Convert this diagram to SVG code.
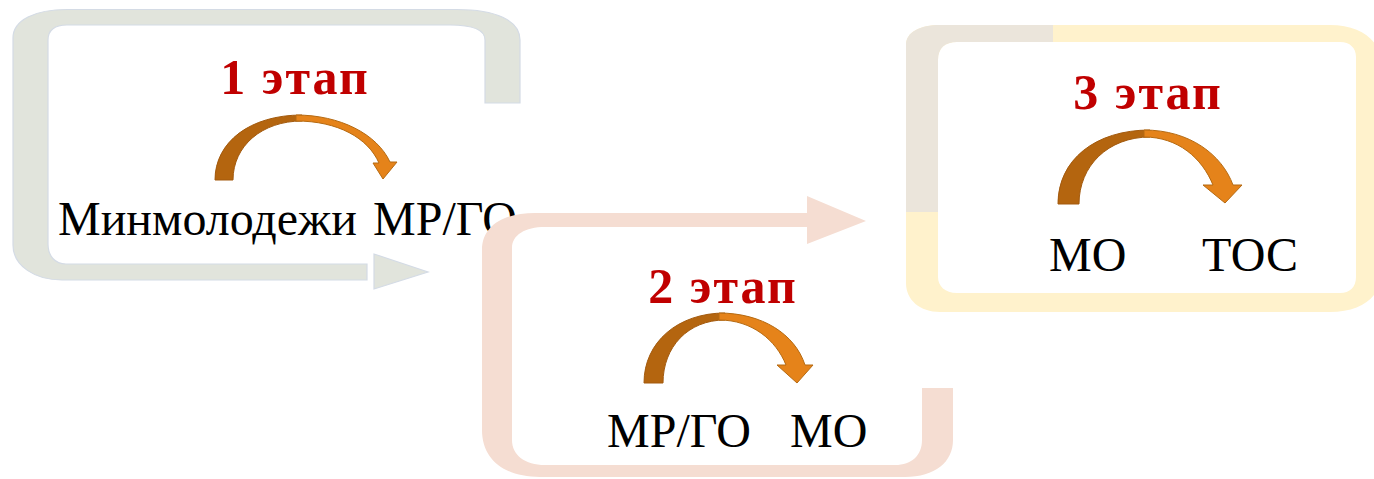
<svg xmlns="http://www.w3.org/2000/svg" width="1374" height="479" viewBox="0 0 1374 479">
<style>
.lbl{font-family:"Liberation Serif","Times New Roman",serif;font-size:48px;fill:#000}
.ttl{font-family:"Liberation Serif","Times New Roman",serif;font-size:50px;font-weight:bold;letter-spacing:2px;fill:#C00000;text-anchor:middle}
.dk{fill:#B4650F;stroke:#A35A0E;stroke-width:1}
.or{fill:#E5831A;stroke:#B56A12;stroke-width:1}
.grey{fill:#E1E4DC;stroke:#D4DBE5;stroke-width:1.2}
</style>
<defs>
<path id="yframe" d="M906,45 C906,32 920,25 940,25 L1330,25 C1360,25 1380,40 1380,60 L1380,277 C1380,298 1360,312 1330,312 L940,312 C920,312 906,300 906,283 Z M938,60 L938,277 C938,286 945,293 957,293 L1340,293 C1350,293 1356,287 1356,277 L1356,57 C1356,48 1350,42 1340,42 L957,42 C945,42 938,48 938,60 Z"/>
<clipPath id="beigeClip"><rect x="895" y="15" width="158" height="197"/></clipPath>
</defs>
<g id="stage1">
<path class="grey" d="M520,103 L520,40 C520,20 495,9.5 457,9.5 L67,9.5 C35,9.5 13,20 13,38 L13,245 C13,266 35,280 62,280 L367,280 L367,264 L66,264 C55,264 48,256 48,244 L48,40 C48,30 55,25 67,25 L450,25 C472,25 485,30 485,40 L485,103 Z"/>
<path class="grey" d="M374,254 L428,272 L374,289 Z" stroke="none"/>
<text class="ttl" x="295" y="94">1 этап</text>
<text class="lbl" x="58" y="235">Минмолодежи</text>
<text class="lbl" x="373" y="235">МР/ГО</text>
</g>
<g id="stage2">
<path d="M953,388 L953,440 C953,462 935,477 905,477 L540,477 C505,477 482,460 482,430 L482,250 C482,225 505,213 535,213 L807,213 L807,196 L866,221 L807,244 L807,227 L545,227 C525,227 512,235 512,248 L512,440 C512,455 525,465 545,465 L895,465 C912,465 922,455 922,440 L922,388 Z" fill="#F5DDD2"/>
<text class="ttl" x="723" y="303">2 этап</text>
<text class="lbl" x="607" y="447">МР/ГО</text>
<text class="lbl" x="790" y="447">МО</text>
</g>
<g id="stage3">
<use href="#yframe" fill="#FFF2CC"/>
<use href="#yframe" fill="#EBE5DB" clip-path="url(#beigeClip)"/>
<text class="ttl" x="1148" y="109">3 этап</text>
<text class="lbl" x="1049" y="271">МО</text>
<text class="lbl" x="1202" y="271">ТОС</text>
</g>
<g id="connectors">
<path class="dk" d="M215,180 C215,142 250,115 302,115 L302,121 C262,121 233,146 233,180 Z"/>
<path class="or" d="M296,115 C340,115 377,134 390,162 L397,162 L383,179 L373,163 L379,163 C368,138 338,121 296,121 Z"/>
<path class="dk" d="M644,383 C644,342 678,313 725,313 L725,320 C688,320 663,347 663,383 Z"/>
<path class="or" d="M719,313 C762,313 795,334 805,365 L813,365 L797,383 L777,365 L786,365 C776,340 752,320 719,320 Z"/>
<path class="dk" d="M1058,204 C1058,160 1095,130 1150,130 L1150,137 C1108,137 1079,166 1079,204 Z"/>
<path class="or" d="M1144,130 C1190,130 1222,155 1233,185 L1242,185 L1225,203 L1203,185 L1213,185 C1202,158 1178,137 1144,137 Z"/>
</g>
</svg>
